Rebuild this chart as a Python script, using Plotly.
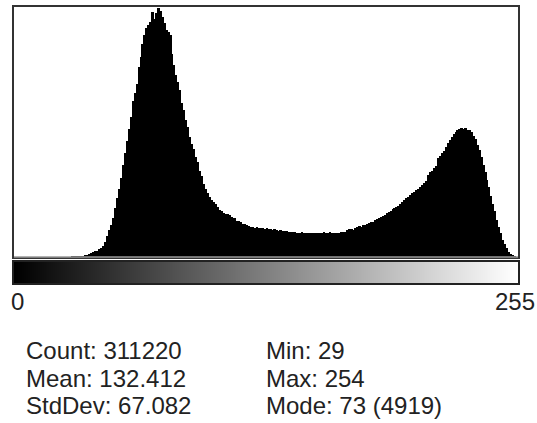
import plotly.graph_objects as go

# Histogram of 8-bit grey levels (ImageJ style)
bins = list(range(256))
counts = [
    0, 0, 0, 0, 0, 0, 0, 0, 0, 0, 0, 0, 0, 0, 0, 0,
    0, 0, 0, 0, 0, 0, 0, 0, 0, 0, 0, 0, 0, 3, 2, 4,
    6, 8, 12, 18, 26, 38, 52, 70, 90, 110, 128, 150, 185, 225, 300, 410,
    530, 640, 780, 960, 1160, 1340, 1560, 1820, 2050, 2290, 2520, 2760, 3080, 3240, 3420, 3760,
    3950, 4200, 4380, 4530, 4590, 4650, 4840, 4700, 4830, 4919, 4860, 4740, 4620, 4490, 4440, 4380,
    4010, 3790, 3590, 3460, 3300, 3040, 2900, 2700, 2560, 2380, 2230, 2140, 1980, 1880, 1700, 1600,
    1440, 1350, 1260, 1180, 1130, 1080, 1050, 990, 930, 900, 870, 855, 840, 820, 790, 780,
    770, 720, 715, 700, 660, 650, 630, 610, 600, 590, 575, 585, 570, 575, 565, 560,
    570, 550, 555, 540, 548, 530, 520, 535, 515, 505, 510, 495, 500, 485, 490, 478,
    480, 470, 500, 475, 472, 478, 470, 476, 480, 470, 482, 475, 478, 490, 476, 480,
    485, 478, 484, 480, 478, 482, 488, 485, 500, 530, 545, 555, 530, 580, 590, 610,
    600, 630, 640, 650, 670, 690, 700, 730, 750, 770, 790, 810, 830, 860, 880, 900,
    940, 960, 990, 1010, 1050, 1080, 1120, 1160, 1190, 1230, 1260, 1290, 1320, 1350, 1380, 1420,
    1460, 1500, 1620, 1670, 1700, 1760, 1800, 1950, 1990, 2050, 2100, 2180, 2260, 2320, 2380, 2430,
    2470, 2500, 2520, 2540, 2530, 2545, 2510, 2500, 2470, 2400, 2340, 2220, 2110, 1970, 1820, 1680,
    1520, 1380, 1210, 1050, 900, 740, 600, 470, 340, 250, 170, 100, 60, 30, 15, 0,
]
left_stats = ["Count: 311220", "Mean: 132.412", "StdDev: 67.082"]
right_stats = ["Min: 29", "Max: 254", "Mode: 73 (4919)"]
axis_labels = ["0", "255"]

W, H = 537, 423


def px(x):
    return x / W


def py(y):
    return 1 - y / H


fig = go.Figure()

fig.add_trace(go.Bar(
    x=bins, y=counts,
    marker=dict(color='black', line=dict(width=0)),
    xaxis='x', yaxis='y', showlegend=False
))

# grey-level ramp under the histogram
fig.add_trace(go.Heatmap(
    z=[bins], x=bins, y=[0],
    colorscale=[[0, 'black'], [1, 'white']],
    showscale=False, xaxis='x2', yaxis='y2'
))

fig.update_layout(
    width=W, height=H,
    margin=dict(l=0, r=0, t=0, b=0),
    paper_bgcolor='white', plot_bgcolor='white',
    bargap=0,
    font=dict(family='Liberation Sans, Arial, sans-serif', size=24, color='#222'),
    xaxis=dict(domain=[px(14), px(518)], range=[-0.5, 255.5],
               showticklabels=False, ticks='', showgrid=False, zeroline=False,
               showline=True, mirror=True, linecolor='#333', linewidth=1.5),
    yaxis=dict(domain=[py(257), py(7)], range=[0, 4939],
               showticklabels=False, ticks='', showgrid=False, zeroline=False,
               showline=True, mirror=True, linecolor='#333', linewidth=1.5),
    xaxis2=dict(domain=[px(14), px(518)], range=[-0.5, 255.5], anchor='y2',
                showticklabels=False, ticks='', showgrid=False, zeroline=False,
                showline=True, mirror=True, linecolor='#222', linewidth=1.5),
    yaxis2=dict(domain=[py(283), py(262)], range=[-0.5, 0.5], anchor='x2',
                showticklabels=False, ticks='', showgrid=False, zeroline=False,
                showline=True, mirror=True, linecolor='#222', linewidth=1.5),
)

# bottom edge of the histogram box is lighter
fig.add_shape(type='line', xref='paper', yref='paper',
              x0=px(14), x1=px(518), y0=py(257), y1=py(257),
              line=dict(color='#999', width=1.5))

ann = []
ann.append(dict(text=axis_labels[0], x=px(9), y=py(301), xanchor='left', yanchor='middle'))
ann.append(dict(text=axis_labels[1], x=px(537), y=py(301), xanchor='right', yanchor='middle'))
rows = [350, 378, 405]
for txt, yy in zip(left_stats, rows):
    ann.append(dict(text=txt, x=px(24), y=py(yy), xanchor='left', yanchor='middle'))
for txt, yy in zip(right_stats, rows):
    ann.append(dict(text=txt, x=px(264), y=py(yy), xanchor='left', yanchor='middle'))
for a in ann:
    a.update(xref='paper', yref='paper', showarrow=False)
fig.update_layout(annotations=ann)

fig.write_html("out.html", config={'displayModeBar': False},
               post_script="document.body.style.margin='0';")
